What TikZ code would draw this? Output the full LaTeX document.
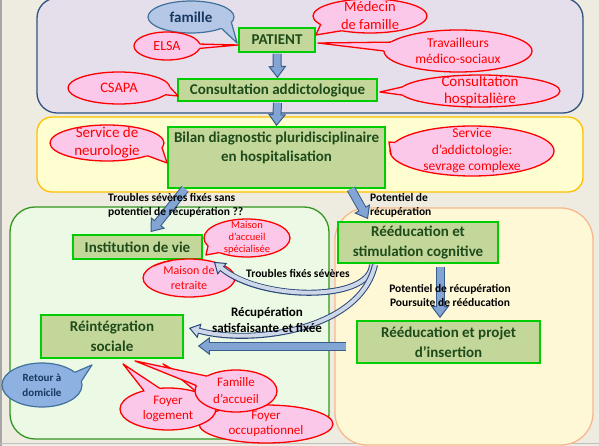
\documentclass[tikz,border=0pt]{standalone}
\usepackage{fontspec}
\setmainfont{Carlito}
\usetikzlibrary{arrows.meta,calc}

\definecolor{bgc}{RGB}{238,236,225}
\definecolor{lavf}{RGB}{229,223,236}
\definecolor{lavd}{RGB}{47,82,130}
\definecolor{yelf}{RGB}{255,254,208}
\definecolor{yeld}{RGB}{255,192,0}
\definecolor{grnf}{RGB}{236,250,229}
\definecolor{grnd}{RGB}{50,150,30}
\definecolor{pchf}{RGB}{255,248,215}
\definecolor{pchd}{RGB}{246,184,140}
\definecolor{boxf}{RGB}{196,215,155}
\definecolor{boxd}{RGB}{0,205,0}
\definecolor{boxt}{RGB}{30,75,25}
\definecolor{pinkf}{RGB}{252,200,234}
\definecolor{pinkd}{RGB}{255,0,0}
\definecolor{bluef}{RGB}{180,199,231}
\definecolor{blued}{RGB}{65,113,156}
\definecolor{bluet}{RGB}{23,55,94}
\definecolor{dblf}{RGB}{141,178,226}
\definecolor{arrf}{RGB}{130,165,212}
\definecolor{arrd}{RGB}{56,93,138}
\definecolor{curf}{RGB}{205,215,232}
\definecolor{curd}{RGB}{40,70,120}

\tikzset{
  gbox/.style={draw=boxd, fill=boxf, line width=1.8pt, text=boxt,
    font=\fontsize{15}{18}\selectfont\bfseries, align=center, inner sep=0pt},
  btext/.style={text=boxt, font=\fontsize{15}{18}\selectfont\bfseries, align=center, inner sep=0pt},
  lbl/.style={font=\fontsize{11.5}{14}\selectfont\bfseries, text=black, align=left, inner sep=0pt},
  pinkfill/.style={fill=pinkf},
  pinkline/.style={draw=pinkd, line width=1.3pt, line join=round},
  pinktext/.style={text=red, align=center, inner sep=0pt},
  bluefill/.style={fill=bluef},
  blueline/.style={draw=blued, line width=1.2pt, line join=round},
  bluetext/.style={text=bluet, align=center, inner sep=0pt},
  dbluefill/.style={fill=dblf},
  dblueline/.style={draw=blued, line width=1.2pt, line join=round},
  dbluetext/.style={text=bluet, align=center, inner sep=0pt},
  cf/.style={},
  fatout/.style={line width=9pt, draw=arrd,
    -{Triangle[length=12pt,width=18pt,fill=arrf,line width=1pt]}},
  fatin/.style={line width=7pt, draw=arrf, shorten >=10.5pt},
  curout/.style={line width=6pt, draw=curd,
    -{Triangle[length=11pt,width=15pt,fill=curf,line width=1pt]}},
  curin/.style={line width=4pt, draw=curf, shorten >=9.5pt},
}
\newcommand{\cfn}[2]{\tikzset{cf/.style={font=\fontsize{#1}{#2}\selectfont}}}
\newcommand{\cfb}[2]{\tikzset{cf/.style={font=\fontsize{#1}{#2}\selectfont\bfseries}}}

% #1 name, #2 centre, #3 rx, #4 ry, #5 tip, #6 #7 base angles, #8 kind, #9 text
\newcommand{\callout}[9]{%
  \coordinate (#1) at (#2);
  \coordinate (#1-a) at ($(#1)+(#6:#3 and #4)$);
  \coordinate (#1-b) at ($(#1)+(#7:#3 and #4)$);
  \path[#8fill,#8line] (#1) ellipse [x radius=#3, y radius=#4];
  \path[#8fill] (#1-a) -- #5 -- (#1-b) -- ($(#1)!0.7!(#1-b)$) -- ($(#1)!0.7!(#1-a)$) -- cycle;
  \path[#8line] (#1-a) -- #5 -- (#1-b);
  \node[#8text, cf] (#1-t) at (#1) {#9};
}
\newcommand{\fatarrow}[2]{\draw[fatout] #1 -- #2; \draw[fatin] #1 -- #2;}

\begin{document}
\begin{tikzpicture}[x=1pt,y=-1pt]
\useasboundingbox (0,0) rectangle (599,446);
\clip (0,0) rectangle (599,446);
\fill[bgc] (0,0) rectangle (599,446);
\draw[gray!70, line width=1.5pt] (0.75,0) -- (0.75,446);
\draw[gray!50, line width=1pt] (0,443.5) -- (599,443.5);

% panels
\filldraw[fill=lavf, draw=lavd, line width=1.3pt, rounded corners=20pt] (37,-2) rectangle (583,113);
\filldraw[fill=yelf, draw=yeld, line width=1.3pt, rounded corners=15pt] (37,117) rectangle (583,192);
\filldraw[fill=grnf, draw=grnd, line width=1.3pt, rounded corners=25pt] (10,207) rectangle (329,439);
\filldraw[fill=pchf, draw=pchd, line width=1.3pt, rounded corners=32pt] (335,208) rectangle (593,445);

% boxes
\node[gbox, minimum width=76pt, minimum height=24pt] (pat) at (277,40) {PATIENT};
\node[gbox, minimum width=199pt, minimum height=22pt] (ca) at (277.5,90) {Consultation addictologique};
\node[gbox, minimum width=217pt, minimum height=61pt] (bilan) at (276.5,157.5) {};
\node[btext] (bilant) at (276.5,148) {Bilan diagnostic pluridisciplinaire\\[1pt]en hospitalisation};
\node[gbox, minimum width=129pt, minimum height=24pt] (inst) at (137.5,247) {Institution de vie};
\node[gbox, minimum width=160pt, minimum height=41pt] (rs) at (418,242.5) {Rééducation et\\[2pt]stimulation cognitive};
\node[gbox, minimum width=142pt, minimum height=43pt] (reint) at (112,336.5) {Réintégration\\[2pt]sociale};
\node[gbox, minimum width=183pt, minimum height=42pt] (rp) at (448.5,342) {Rééducation et projet\\[2pt]d’insertion};

% straight block arrows
\fatarrow{([yshift=-1pt]pat.south)}{(ca.north)}
\fatarrow{([yshift=-1pt]ca.south)}{(bilan.north)}
\fatarrow{([xshift=18pt]bilan.south west)}{([xshift=13pt,yshift=2pt]inst.north)}
\fatarrow{([xshift=-35pt]bilan.south east)}{([xshift=-50pt,yshift=2pt]rs.north)}
\fatarrow{([xshift=22pt,yshift=-3pt]rs.south)}{([xshift=-8.5pt,yshift=2pt]rp.north)}
\fatarrow{([xshift=-10pt,yshift=-4pt]rp.west)}{([xshift=14pt,yshift=-9.5pt]reint.east)}

% callouts
\cfb{15}{17}
\callout{famille}{191,17}{43}{16}{([xshift=-1pt,yshift=-3pt]pat.west)}{20}{45}{blue}{famille}
\cfn{14}{16}
\callout{elsa}{167,46}{33}{14}{([yshift=-5pt]pat.west)}{-8}{10}{pink}{ELSA}
\cfn{14.5}{18}
\callout{medecin}{370,16}{57}{17}{([yshift=5pt]pat.east)}{120}{150}{pink}{Médecin\\de famille}
\cfn{13.5}{16}
\callout{trav}{458,51}{74}{21}{([xshift=2pt,yshift=-3pt]pat.east)}{180}{205}{pink}{Travailleurs\\médico-sociaux}
\cfn{14.5}{16}
\callout{csapa}{119,88}{51}{16}{([xshift=1pt,yshift=-6pt]ca.west)}{-3}{25}{pink}{CSAPA}
\cfn{15}{17}
\callout{chosp}{480,91}{80}{16}{([xshift=2pt,yshift=-2pt]ca.east)}{165}{195}{pink}{Consultation\\hospitalière}
\cfn{15}{18}
\callout{neuro}{107,143}{57}{18}{([yshift=-5.5pt]bilan.west)}{15}{45}{pink}{Service de\\neurologie}
\cfn{13.5}{16.5}
\callout{addic}{472,151}{82}{25}{([xshift=3pt,yshift=15.5pt]bilan.east)}{170}{200}{pink}{Service\\d’addictologie:\\sevrage complexe}
\cfn{10.5}{12}
\callout{mas}{247,238}{43}{19}{([xshift=3pt,yshift=-8pt]inst.east)}{130}{155}{pink}{Maison\\d’accueil\\spécialisée}
\cfn{12}{15}
\callout{retraite}{189,278}{46}{19}{([xshift=27.5pt,yshift=-2pt]inst.south)}{220}{250}{pink}{Maison de\\retraite}
\cfb{11}{15}
\callout{retour}{42,385}{40}{22}{([xshift=-20pt,yshift=-6pt]reint.south)}{-35}{-10}{dblue}{Retour à\\domicile}
\cfn{13}{15}
\callout{focc}{266,424}{67}{19}{([xshift=51pt,yshift=-5pt]reint.south)}{225}{245}{pink}{Foyer\\occupationnel}
\callout{flog}{168,409}{48}{21}{([xshift=11pt,yshift=-5pt]reint.south)}{240}{260}{pink}{Foyer\\logement}
\cfn{13}{17}
\callout{faccueil}{236,391}{41}{21}{([xshift=23pt,yshift=-2pt]reint.south)}{195}{225}{pink}{Famille\\d’accueil}

% curved arrows
\draw[curout] ([xshift=-46pt,yshift=-1pt]rs.south) .. controls +(-2,37) and +(47,39) .. ([xshift=11pt,yshift=-2pt]inst.south east);
\draw[curin] ([xshift=-46pt,yshift=-1pt]rs.south) .. controls +(-2,37) and +(47,39) .. ([xshift=11pt,yshift=-2pt]inst.south east);
\draw[curout] ([xshift=-43pt,yshift=-1pt]rs.south) .. controls +(-15,66) and +(62,17) .. ([xshift=5pt,yshift=8.5pt]reint.east);
\draw[curin] ([xshift=-43pt,yshift=-1pt]rs.south) .. controls +(-15,66) and +(62,17) .. ([xshift=5pt,yshift=8.5pt]reint.east);

% labels
\node[lbl, anchor=west] (l1) at (108,205) {Troubles sévères fixés sans\\potentiel de récupération ??};
\node[lbl, anchor=west] (l2) at (370,205) {Potentiel de\\récupération};
\node[lbl, align=center] (l3) at (450,295) {Potentiel de récupération\\Poursuite de rééducation};
\node[lbl] (l4) at (298,273) {Troubles fixés sévères};
\node[lbl, align=center, font=\fontsize{13}{16}\selectfont\bfseries] (l5) at (267,320) {Récupération\\satisfaisante et fixée};
\end{tikzpicture}
\end{document}
